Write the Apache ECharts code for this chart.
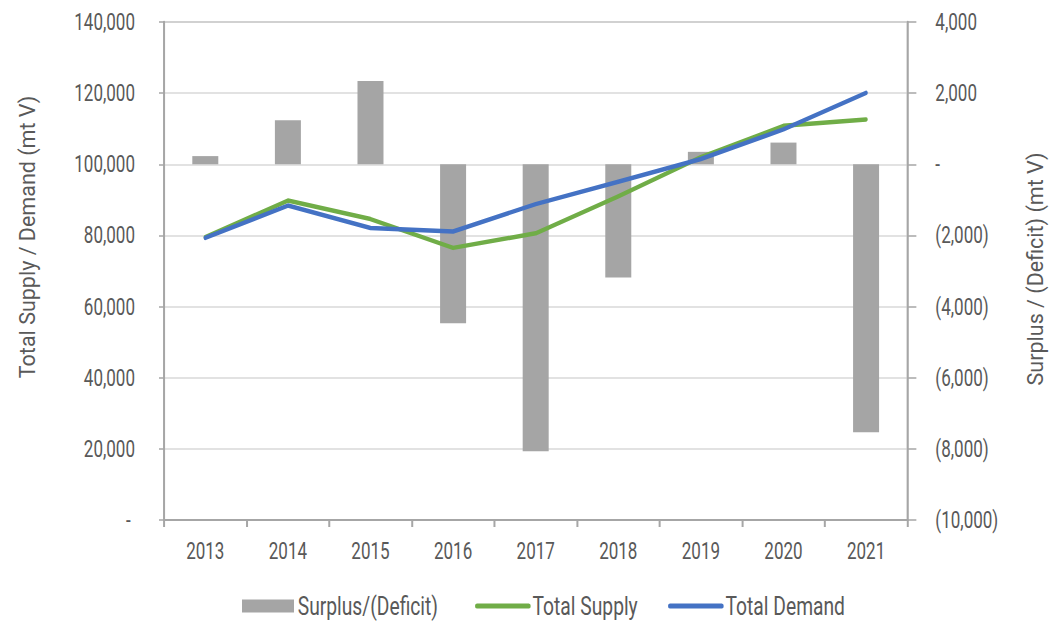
<!DOCTYPE html>
<html>
<head>
<meta charset="utf-8">
<script src="https://cdn.jsdelivr.net/npm/echarts@6/dist/echarts.min.js"></script>
<style>
html,body{margin:0;padding:0;background:#fff;overflow:hidden;}
#wrap{width:1050px;height:623px;overflow:hidden;position:relative;}
#chart{height:623px;transform-origin:0 0;}
</style>
</head>
<body>
<div id="wrap"><div id="chart"></div></div>
<script>
const categories = ['2013','2014','2015','2016','2017','2018','2019','2020','2021'];
const surplus = [230, 1240, 2340, -4470, -8070, -3180, 350, 610, -7530];
const totalSupply = [79500, 89800, 84600, 76500, 80600, 91000, 102000, 110800, 112600];
const totalDemand = [79300, 88400, 82100, 81100, 88800, 95100, 101500, 109800, 120100];
const leftTicksMax = 140000, leftInterval = 20000;
const rightMin = -10000, rightMax = 4000, rightInterval = 2000;
const leftTitle = 'Total Supply / Demand (mt V)';
const rightTitle = 'Surplus / (Deficit) (mt V)';

// The reference uses a condensed face; emulate it by drawing wider and compressing horizontally.
const K = 1.35;
const el = document.getElementById('chart');
el.style.width = (1050 * K) + 'px';
el.style.transform = 'scaleX(' + (1 / K) + ')';

const FONT = 'Roboto, "Noto Sans", sans-serif';
const TXT = '#595959';
const AXIS = '#a6a6a6';
const GRID = '#d9d9d9';

function fmtLeft(v){ return v === 0 ? '- ' : v.toLocaleString('en-US'); }
function fmtRight(v){
  if (v === 0) return '-';
  if (v < 0) return '(' + Math.abs(v).toLocaleString('en-US') + ')';
  return v.toLocaleString('en-US');
}

const legendText = {fontFamily:FONT, fontSize:26, color:TXT};
function legendFor(item, left){
  return {data:[item], left:left * K, top:593, padding:0,
          itemWidth:52 * K, itemHeight:13, itemGap:0, textStyle:legendText};
}

const chart = echarts.init(el, null, {renderer:'svg'});
chart.setOption({
  animation:false,
  textStyle:{fontFamily:FONT},
  grid:{left:164 * K, right:143 * K, top:22, bottom:103, show:true, borderColor:AXIS, borderWidth:1.5},
  legend:[
    legendFor({name:'Surplus/(Deficit)', icon:'rect'}, 242),
    legendFor({name:'Total Supply', itemStyle:{opacity:0}, lineStyle:{width:5, cap:'round'}}, 475),
    legendFor({name:'Total Demand', itemStyle:{opacity:0}, lineStyle:{width:5, cap:'round'}}, 668)
  ],
  xAxis:{
    type:'category', data:categories, boundaryGap:true,
    axisLine:{lineStyle:{color:AXIS, width:2}},
    axisTick:{show:true, length:7, lineStyle:{color:AXIS, width:2 * K}},
    axisLabel:{color:TXT, fontSize:23, margin:20, fontFamily:FONT}
  },
  yAxis:[
    {
      type:'value', min:0, max:leftTicksMax, interval:leftInterval, position:'left',
      axisLine:{show:true, lineStyle:{color:AXIS, width:2 * K}},
      axisTick:{show:true, length:5 * K, lineStyle:{color:AXIS, width:1.5}},
      splitLine:{lineStyle:{color:GRID, width:1.5}},
      axisLabel:{color:TXT, fontSize:23, margin:29 * K, formatter:fmtLeft, fontFamily:FONT}
    },
    {
      type:'value', min:rightMin, max:rightMax, interval:rightInterval, position:'right',
      axisLine:{show:true, lineStyle:{color:AXIS, width:2 * K}},
      axisTick:{show:true, length:9 * K, lineStyle:{color:AXIS, width:1.5}},
      splitLine:{show:false},
      axisLabel:{color:TXT, fontSize:23, margin:28 * K, formatter:fmtRight, fontFamily:FONT}
    }
  ],
  graphic:[
    {type:'text', x:27 * K, y:237, rotation:Math.PI/2, scaleY:K,
     style:{text:leftTitle, fill:TXT, font:'21.5px ' + FONT, align:'center', verticalAlign:'middle'}},
    {type:'text', x:1035 * K, y:269, rotation:Math.PI/2, scaleY:K,
     style:{text:rightTitle, fill:TXT, font:'21.5px ' + FONT, align:'center', verticalAlign:'middle'}}
  ],
  series:[
    {name:'Surplus/(Deficit)', type:'bar', yAxisIndex:1, data:surplus, barWidth:26 * K,
     itemStyle:{color:'#a5a5a5'}},
    {name:'Total Supply', type:'line', yAxisIndex:0, data:totalSupply, symbol:'none',
     lineStyle:{color:'#70ad47', width:4.5, join:'round', cap:'round'}, itemStyle:{color:'#70ad47'}},
    {name:'Total Demand', type:'line', yAxisIndex:0, data:totalDemand, symbol:'none',
     lineStyle:{color:'#4472c4', width:4.5, join:'round', cap:'round'}, itemStyle:{color:'#4472c4'}}
  ]
});
</script>
</body>
</html>
